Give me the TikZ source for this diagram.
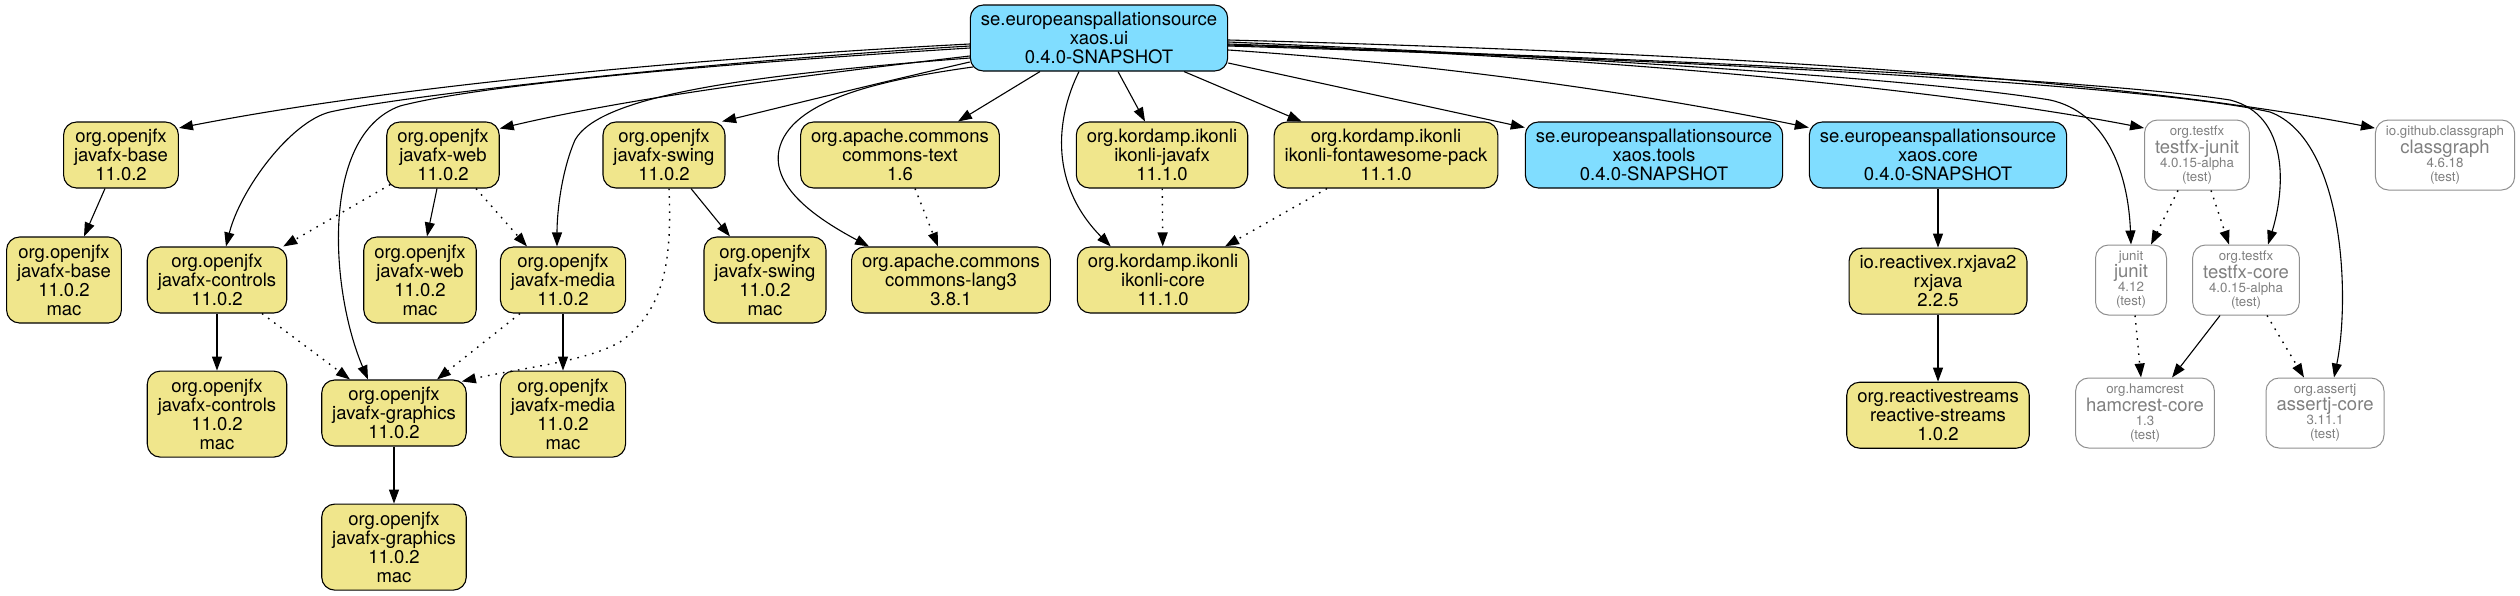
\documentclass[tikz,border=0pt]{standalone}
\usepackage{fontspec}
\setmainfont{TeX Gyre Heros}
\usepackage{xcolor}
\usepackage{tikz}
\usetikzlibrary{positioning,arrows.meta}
\definecolor{khaki}{HTML}{F0E68C}
\definecolor{skyb}{HTML}{80DDFF}
\definecolor{testln}{HTML}{8F8F8F}
\definecolor{testtx}{HTML}{808080}
\newcommand{\gvfont}{\fontsize{18.5pt}{19pt}\selectfont}
\newcommand{\gvsmall}{\fontsize{13.3pt}{14pt}\selectfont}
\newcommand{\testdep}[3]{#1\\{\gvfont #2}\\#3\\(test)}
\tikzset{
  box/.style={rectangle,draw=black,fill=khaki,rounded corners=13pt,line width=1.1pt,
    align=center,inner xsep=10.5pt,inner ysep=2pt,font=\gvfont,
    minimum width=71pt,minimum height=66pt},
  mac/.style={box,minimum height=86pt},
  prj/.style={box,fill=skyb},
  tst/.style={box,draw=testln,fill=white,text=testtx,font=\gvsmall,
    line width=1pt,minimum height=70pt},
  dep/.style={-{Triangle[length=14pt,width=10pt]},line width=1.1pt},
  opt/.style={dep,line width=1.4pt,dash pattern=on 1.6pt off 6pt},
}
\begin{document}
\begin{tikzpicture}[x=1pt,y=-1pt,node distance=57pt]
  \useasboundingbox[fill=white] (0,0) rectangle (2520,595);
  \node[prj] (ui) at (1099,38) {se.europeanspallationsource\\xaos.ui\\0.4.0-SNAPSHOT};
  \node[box] (base) at (121,155) {org.openjfx\\javafx-base\\11.0.2};
  \node[box] (web) at (443,155) {org.openjfx\\javafx-web\\11.0.2};
  \node[box] (swing) at (664,155) {org.openjfx\\javafx-swing\\11.0.2};
  \node[box] (ctext) at (900,155) {org.apache.commons\\commons-text\\1.6};
  \node[box] (ikfx) at (1162,155) {org.kordamp.ikonli\\ikonli-javafx\\11.1.0};
  \node[box] (ikfa) at (1386,155) {org.kordamp.ikonli\\ikonli-fontawesome-pack\\11.1.0};
  \node[prj] (tools) at (1654,155) {se.europeanspallationsource\\xaos.tools\\0.4.0-SNAPSHOT};
  \node[prj] (core) at (1938,155) {se.europeanspallationsource\\xaos.core\\0.4.0-SNAPSHOT};
  \node[tst] (fxjunit) at (2197,155) {\testdep{org.testfx}{testfx-junit}{4.0.15-alpha}};
  \node[tst] (cgraph) at (2445,155) {\testdep{io.github.classgraph}{classgraph}{4.6.18}};
  \node[mac] (basemac) at (64,280) {org.openjfx\\javafx-base\\11.0.2\\mac};
  \node[box] (ctrl) at (217,280) {org.openjfx\\javafx-controls\\11.0.2};
  \node[mac] (webmac) at (420,280) {org.openjfx\\javafx-web\\11.0.2\\mac};
  \node[box] (media) at (563,280) {org.openjfx\\javafx-media\\11.0.2};
  \node[mac] (swingmac) at (765,280) {org.openjfx\\javafx-swing\\11.0.2\\mac};
  \node[box] (lang) at (951,280) {org.apache.commons\\commons-lang3\\3.8.1};
  \node[box] (ikcore) at (1163,280) {org.kordamp.ikonli\\ikonli-core\\11.1.0};
  \node[box,below=59pt of core] (rx) {io.reactivex.rxjava2\\rxjava\\2.2.5};
  \node[tst] (junit) at (2131,280) {\testdep{junit}{junit}{4.12}};
  \node[tst] (fxcore) at (2246,280) {\testdep{org.testfx}{testfx-core}{4.0.15-alpha}};
  \node[mac,below=of ctrl] (ctrlmac) {org.openjfx\\javafx-controls\\11.0.2\\mac};
  \node[box] (gfx) at (394,413) {org.openjfx\\javafx-graphics\\11.0.2};
  \node[mac,below=of media] (mediamac) {org.openjfx\\javafx-media\\11.0.2\\mac};
  \node[box,below=67pt of rx] (rs) {org.reactivestreams\\reactive-streams\\1.0.2};
  \node[tst] (hamcrest) at (2145,413) {\testdep{org.hamcrest}{hamcrest-core}{1.3}};
  \node[tst] (assertj) at (2325,413) {\testdep{org.assertj}{assertj-core}{3.11.1}};
  \node[mac,below=of gfx] (gfxmac) {org.openjfx\\javafx-graphics\\11.0.2\\mac};

  \draw[dep] ([yshift=-6pt]ui.west) .. controls (700,58) and (400,85) .. (base.25);
  \draw[dep] ([yshift=-8pt]ui.west) .. controls (700,62) and (400,96) .. (330,112)
    .. controls (290,122) and (240,190) .. ([xshift=9pt]ctrl.north);
  \draw[dep] ([yshift=-10pt]ui.west) .. controls (700,65) and (480,85) .. (400,106)
    .. controls (320,135) and (330,290) .. ([xshift=-26pt]gfx.north);
  \draw[dep] ([yshift=-18pt]ui.west) .. controls (780,78) and (620,100) .. (web.25);
  \draw[dep] ([yshift=-20pt]ui.west) .. controls (750,75) and (600,95) .. (575,140)
    .. controls (562,170) and (557,210) .. ([xshift=-6pt]media.north);
  \draw[dep] ([yshift=-24pt]ui.west) .. controls (870,85) and (790,105) .. (swing.30);
  \draw[dep] ([xshift=3pt,yshift=-29pt]ui.west) .. controls (880,80) and (790,100) .. (779,150)
    .. controls (772,185) and (810,215) .. ([xshift=18pt]lang.north west);
  \draw[dep] ([xshift=-59pt]ui.south) -- ([xshift=58pt]ctext.north);
  \draw[dep] ([xshift=-20pt]ui.south) .. controls (1055,120) and (1050,185) .. ([xshift=34pt]ikcore.north west);
  \draw[dep] ([xshift=19pt]ui.south) -- ([xshift=-17pt]ikfx.north);
  \draw[dep] ([xshift=85pt]ui.south) -- ([xshift=28pt]ikfa.north west);
  \draw[dep] ([yshift=-25pt]ui.east) -- (tools.168);
  \draw[dep] ([yshift=-12pt]ui.east) .. controls (1450,65) and (1650,95) .. (core.168);
  \draw[dep] ([yshift=-2pt]ui.east) .. controls (1800,55) and (2150,85) .. (cgraph.159);
  \draw[dep] ([yshift=-4pt]ui.east) .. controls (1600,58) and (1930,80) .. (2050,100)
    .. controls (2105,112) and (2128,170) .. (junit.north);
  \draw[dep] ([yshift=-6pt]ui.east) .. controls (1700,60) and (2000,100) .. (fxjunit.153);
  \draw[dep] ([yshift=-7pt]ui.east) .. controls (1700,60) and (2100,80) .. (2230,100)
    .. controls (2290,115) and (2285,190) .. ([xshift=22pt]fxcore.north);
  \draw[dep] ([yshift=-8pt]ui.east) .. controls (1700,60) and (2150,85) .. (2270,112)
    .. controls (2345,140) and (2350,300) .. ([xshift=9pt]assertj.north);

  \draw[dep] ([xshift=-16pt]base.south) -- ([xshift=20pt]basemac.north);
  \draw[opt] ([xshift=4pt,yshift=4pt]web.south west) -- ([xshift=-4pt]ctrl.north east);
  \draw[dep] ([xshift=-6pt]web.south) -- ([xshift=7pt]webmac.north);
  \draw[opt] ([xshift=33pt]web.south) -- ([xshift=-36pt]media.north);
  \draw[dep] (ctrl) -- (ctrlmac);
  \draw[opt] ([xshift=45pt]ctrl.south) -- ([xshift=-44pt]gfx.north);
  \draw[dep] (gfx) -- (gfxmac);
  \draw[opt] ([xshift=-43pt]media.south) -- ([xshift=43pt]gfx.north);
  \draw[dep] (media) -- (mediamac);
  \draw[opt] ([xshift=5pt]swing.south) .. controls (672,260) and (665,310) .. (620,342)
    .. controls (585,362) and (520,368) .. ([xshift=-5pt,yshift=-2pt]gfx.north east);
  \draw[dep] ([xshift=27pt]swing.south) -- ([xshift=-35pt]swingmac.north);
  \draw[opt] ([xshift=15pt]ctext.south) -- ([xshift=-13pt]lang.north);
  \draw[opt] (ikfx) -- (ikcore);
  \draw[opt] ([xshift=-59pt]ikfa.south) -- ([xshift=62pt]ikcore.north);
  \draw[dep] (core) -- (rx);
  \draw[dep] (rx) -- (rs);
  \draw[opt] ([xshift=-19pt]fxjunit.south) -- ([xshift=20pt]junit.north);
  \draw[opt] ([xshift=14pt]fxjunit.south) -- ([xshift=-17pt]fxcore.north);
  \draw[opt] ([xshift=4pt]junit.south) -- ([xshift=-4pt]hamcrest.north);
  \draw[dep] ([xshift=-26pt]fxcore.south) -- ([xshift=27pt]hamcrest.north);
  \draw[opt] ([xshift=21pt]fxcore.south) -- ([xshift=-21pt]assertj.north);
\end{tikzpicture}
\end{document}
